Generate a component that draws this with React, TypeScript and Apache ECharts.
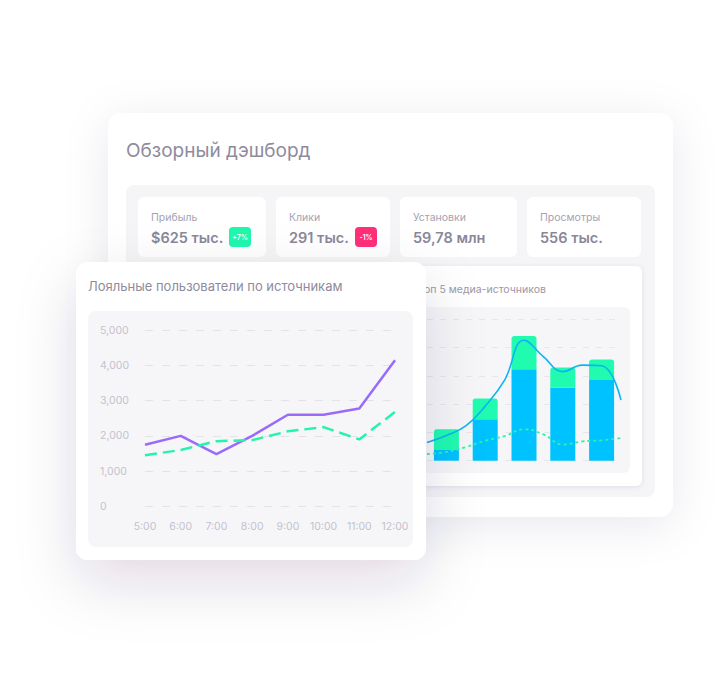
import React, { useEffect, useRef } from "react";
import * as echarts from "echarts";

// ---- data ----
const TIME_LABELS = ["5:00", "6:00", "7:00", "8:00", "9:00", "10:00", "11:00", "12:00"];
const LOYAL_PURPLE = [1750, 2000, 1480, 2000, 2600, 2600, 2780, 4150];
const LOYAL_GREEN = [1450, 1600, 1850, 1880, 2130, 2250, 1900, 2680];
const LOYAL_Y_TICKS = [0, 1000, 2000, 3000, 4000, 5000];

const MEDIA_SOURCES = ["Источник 1", "Источник 2", "Источник 3", "Источник 4", "Источник 5"];
const MEDIA_BLUE = [38, 147, 323, 258, 285];
const MEDIA_GREEN = [73, 73, 118, 72, 73];
const TREND_POINTS = ["t0", "t1", "t2", "t3", "t4", "t5", "t6", "t7", "t8", "t9", "t10"];
const TREND_BLUE = [64, 89, 123, 193, 285, 426, 368, 315, 338, 336, 214];
const TREND_GREEN = [23, 31, 48, 71, 87, 111, 93, 57, 68, 72, 80];

const KPI_LABELS = ["Прибыль", "Клики", "Установки", "Просмотры"];
const KPI_VALUES = ["$625 тыс.", "291 тыс.", "59,78 млн", "556 тыс."];
const KPI_BADGES = ["+7%", "-1%", "", ""];

const FONT = "Inter, 'Noto Sans', sans-serif";

export default function App() {
  const ref = useRef<HTMLDivElement>(null);

  useEffect(() => {
    if (!ref.current) return;
    const chart = echarts.init(ref.current, undefined, { renderer: "svg" });

    const kpiBoxes = [
      [138, 128],
      [276, 114],
      [400, 117],
      [527, 114],
    ];
    const badgeX = [229, 355];
    const badgeColors = ["#1ff7ad", "#ff2f78"];

    const graphics: any[] = [];
    // back card
    graphics.push({
      type: "rect",
      z: 1,
      shape: { x: 108, y: 113, width: 565, height: 404, r: 14 },
      style: { fill: "#ffffff", shadowBlur: 45, shadowColor: "rgba(40,35,80,0.09)", shadowOffsetY: 8 },
    });
    graphics.push({
      type: "text",
      z: 2,
      style: {
        text: "Обзорный дэшборд",
        x: 126,
        y: 150,
        textVerticalAlign: "middle",
        font: `400 19px ${FONT}`,
        fill: "#8e8b9d",
      },
    });
    graphics.push({
      type: "rect",
      z: 2,
      shape: { x: 126, y: 185, width: 529, height: 312, r: 8 },
      style: { fill: "#f5f5f7" },
    });
    kpiBoxes.forEach(([x, w], i) => {
      graphics.push({
        type: "rect",
        z: 3,
        shape: { x, y: 197, width: w, height: 60, r: 6 },
        style: { fill: "#ffffff" },
      });
      graphics.push({
        type: "text",
        z: 4,
        style: {
          text: KPI_LABELS[i],
          x: x + 13,
          y: 217,
          textVerticalAlign: "middle",
          font: `400 10.5px ${FONT}`,
          fill: "#a5a2b2",
        },
      });
      graphics.push({
        type: "text",
        z: 4,
        style: {
          text: KPI_VALUES[i],
          x: x + 13,
          y: 237,
          textVerticalAlign: "middle",
          font: `600 14.5px ${FONT}`,
          fill: "#8a879a",
        },
      });
      if (KPI_BADGES[i]) {
        graphics.push({
          type: "rect",
          z: 4,
          shape: { x: badgeX[i], y: 227, width: 22, height: 20, r: 4 },
          style: { fill: badgeColors[i] },
        });
        graphics.push({
          type: "text",
          z: 5,
          style: {
            text: KPI_BADGES[i],
            x: badgeX[i] + 11,
            y: 237,
            textAlign: "center",
            textVerticalAlign: "middle",
            font: `600 7px ${FONT}`,
            fill: "#ffffff",
          },
        });
      }
    });
    // bar card
    graphics.push({
      type: "rect",
      z: 3,
      shape: { x: 400, y: 266, width: 242, height: 220, r: 6 },
      style: { fill: "#ffffff", shadowBlur: 4, shadowColor: "rgba(90,80,150,0.15)", shadowOffsetY: 1 },
    });
    graphics.push({
      type: "text",
      z: 4,
      style: {
        text: "Топ 5 медиа-источников",
        x: 418,
        y: 289,
        textVerticalAlign: "middle",
        font: `400 10.5px ${FONT}`,
        fill: "#9a97a8",
      },
    });
    graphics.push({
      type: "rect",
      z: 4,
      shape: { x: 413, y: 307, width: 217, height: 166, r: 6 },
      style: { fill: "#f6f6f8" },
    });
    // front card
    graphics.push({
      type: "rect",
      z: 20,
      shape: { x: 76, y: 262, width: 350, height: 298, r: 12 },
      style: { fill: "#ffffff", shadowBlur: 60, shadowColor: "rgba(35,30,70,0.14)", shadowOffsetY: 22 },
    });
    graphics.push({
      type: "text",
      z: 21,
      style: {
        text: "Лояльные пользователи по источникам",
        x: 88,
        y: 286,
        textVerticalAlign: "middle",
        font: `400 13px ${FONT}`,
        fill: "#8e8b9d",
      },
    });
    graphics.push({
      type: "rect",
      z: 21,
      shape: { x: 88, y: 311, width: 325, height: 236, r: 8 },
      style: { fill: "#f6f6f8" },
    });

    const option: any = {
      animation: false,
      backgroundColor: "#ffffff",
      graphic: { elements: graphics },
      grid: [
        { left: 427, top: 319.3, width: 194, height: 141.4, containLabel: false },
        { left: 145, top: 330.3, width: 250, height: 176, containLabel: false },
      ],
      xAxis: [
        {
          type: "category",
          gridIndex: 0,
          data: MEDIA_SOURCES,
          z: 6,
          axisLine: { show: false },
          axisTick: { show: false },
          axisLabel: { show: false },
        },
        {
          type: "category",
          gridIndex: 0,
          data: TREND_POINTS,
          boundaryGap: false,
          show: false,
        },
        {
          type: "category",
          gridIndex: 1,
          data: TIME_LABELS,
          boundaryGap: false,
          z: 22,
          axisLine: { show: false },
          axisTick: { show: false },
          axisLabel: {
            color: "#c4c2ce",
            fontSize: 10.5,
            fontFamily: FONT,
            margin: 15,
          },
        },
      ],
      yAxis: [
        {
          type: "value",
          gridIndex: 0,
          min: 0,
          max: 500,
          interval: 100,
          z: 6,
          axisLine: { show: false },
          axisTick: { show: false },
          axisLabel: { show: false },
          splitLine: { lineStyle: { color: "#e7e6ec", type: [6, 7], width: 1 } },
        },
        {
          type: "value",
          gridIndex: 1,
          min: LOYAL_Y_TICKS[0],
          max: LOYAL_Y_TICKS[LOYAL_Y_TICKS.length - 1],
          interval: 1000,
          z: 22,
          axisLine: { show: false },
          axisTick: { show: false },
          axisLabel: {
            color: "#c4c2ce",
            fontSize: 10.5,
            fontFamily: FONT,
            align: "left",
            margin: 45,
            formatter: (v: number) => v.toLocaleString("en-US"),
          },
          splitLine: { lineStyle: { color: "#e3e2e9", type: [8, 9], width: 1 } },
        },
      ],
      series: [
        {
          type: "bar",
          xAxisIndex: 0,
          yAxisIndex: 0,
          stack: "media",
          data: MEDIA_BLUE,
          barWidth: 25,
          z: 7,
          itemStyle: { color: "#00c2ff" },
        },
        {
          type: "bar",
          xAxisIndex: 0,
          yAxisIndex: 0,
          stack: "media",
          data: MEDIA_GREEN,
          barWidth: 25,
          z: 7,
          itemStyle: { color: "#20fbb0", borderRadius: [3, 3, 0, 0] },
        },
        {
          type: "line",
          xAxisIndex: 1,
          yAxisIndex: 0,
          data: TREND_BLUE,
          smooth: 0.45,
          symbol: "none",
          z: 8,
          lineStyle: { color: "#0db3f4", width: 1.6 },
        },
        {
          type: "line",
          xAxisIndex: 1,
          yAxisIndex: 0,
          data: TREND_GREEN,
          smooth: 0.45,
          symbol: "none",
          z: 8,
          lineStyle: { color: "#2ef2aa", width: 1.8, type: [3, 3] },
        },
        {
          type: "line",
          xAxisIndex: 2,
          yAxisIndex: 1,
          data: LOYAL_PURPLE,
          symbol: "none",
          z: 23,
          lineStyle: { color: "#9a6bfb", width: 2.5 },
        },
        {
          type: "line",
          xAxisIndex: 2,
          yAxisIndex: 1,
          data: LOYAL_GREEN,
          symbol: "none",
          z: 23,
          lineStyle: { color: "#22f5a9", width: 2.5, type: [12, 6] },
        },
      ],
    };
    chart.setOption(option);
    return () => chart.dispose();
  }, []);

  return (
    <div style={{ position: "fixed", left: 0, top: 0, width: 724, height: 696, background: "#ffffff" }}>
      <div ref={ref} style={{ width: 724, height: 696 }} />
    </div>
  );
}
